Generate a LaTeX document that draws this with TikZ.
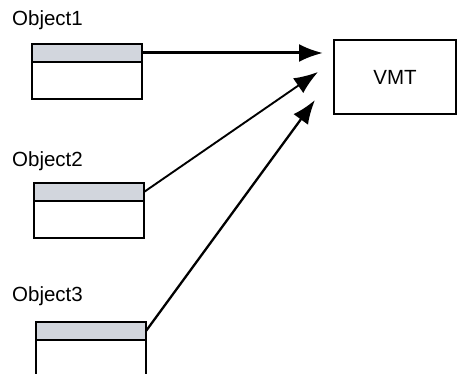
\documentclass[tikz,border=0pt]{standalone}
\usepackage{fontspec}
\setmainfont{Liberation Sans}
\usepackage{tikz}
\usetikzlibrary{positioning,arrows.meta}
\definecolor{headgray}{RGB}{210,214,221}

\begin{document}
\begin{tikzpicture}[x=1pt, y=-1pt, >={Latex[length=24pt,width=18pt]},
        font=\fontsize{20.5}{24}\selectfont,
        head node/.style={rectangle,draw,fill=headgray,line width=2.2pt,minimum width=110pt,minimum height=18pt,inner sep=0pt,outer sep=0pt},
        body node/.style={rectangle,draw,fill=white,line width=2.2pt,minimum width=110pt,minimum height=37pt,inner sep=0pt,outer sep=0pt},
        label node/.style={anchor=west,inner sep=0pt}]
        \useasboundingbox (0,0) rectangle (458,374);
        \node[label node] (l1) at (12,20) {Object1};
        \node[head node] (h1) at (87,53) {};
        \node[body node] (b1) [below=0pt of h1] {};
        \node[label node] (l2) at (12,161) {Object2};
        \node[head node] (h2) at (89,192) {};
        \node[body node] (b2) [below=0pt of h2] {};
        \node[label node] (l3) at (12,296) {Object3};
        \node[head node] (h3) at (91,331) {};
        \node[body node] (b3) [below=0pt of h3] {};
        \node[rectangle,draw,line width=1.8pt,minimum width=122pt,minimum height=74pt,inner sep=0pt] (vmt) at (395,77) {VMT};
        \coordinate (t1) at (323,53);
        \coordinate (t2) at (318,72);
        \coordinate (t3) at (315,100);
        \draw[->,line width=3pt] (h1.east) -- (t1);
        \draw[->,line width=1.9pt] (h2.east) -- (t2);
        \draw[->,line width=2.3pt] (h3.east) -- (t3);
    \end{tikzpicture}
\end{document}
